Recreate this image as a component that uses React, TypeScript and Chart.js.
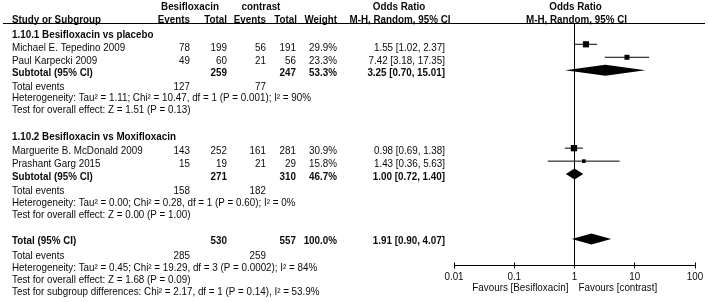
import React, { useEffect, useRef } from "react";
import { Chart, registerables } from "chart.js";

Chart.register(...registerables);

// ---------- data ----------
const studyNames = [
  "Michael E. Tepedino 2009",
  "Paul Karpecki 2009",
  "Marguerite B. McDonald 2009",
  "Prashant Garg 2015",
];
const studyGroup = [0, 0, 1, 1];
const besiEvents = [78, 49, 143, 15];
const besiTotal = [199, 60, 252, 19];
const ctrlEvents = [56, 21, 161, 21];
const ctrlTotal = [191, 56, 281, 29];
const studyWeight = [29.9, 23.3, 30.9, 15.8];
const studyOR = [1.55, 7.42, 0.98, 1.43];
const studyLow = [1.02, 3.18, 0.69, 0.36];
const studyHigh = [2.37, 17.35, 1.38, 5.63];

const groupTitles = ["1.10.1 Besifloxacin vs placebo", "1.10.2 Besifloxacin vs Moxifloxacin"];
const groupBesiTotal = [259, 271];
const groupCtrlTotal = [247, 310];
const groupWeight = [53.3, 46.7];
const groupOR = [3.25, 1.0];
const groupLow = [0.7, 0.72];
const groupHigh = [15.01, 1.4];
const groupBesiEvents = [127, 158];
const groupCtrlEvents = [77, 182];
const groupHet = [
  "Heterogeneity: Tau² = 1.11; Chi² = 10.47, df = 1 (P = 0.001); I² = 90%",
  "Heterogeneity: Tau² = 0.00; Chi² = 0.28, df = 1 (P = 0.60); I² = 0%",
];
const groupTest = [
  "Test for overall effect: Z = 1.51 (P = 0.13)",
  "Test for overall effect: Z = 0.00 (P = 1.00)",
];

const totalBesi = 530;
const totalCtrl = 557;
const totalWeight = 100.0;
const totalOR = 1.91;
const totalLow = 0.9;
const totalHigh = 4.07;
const totalBesiEvents = 285;
const totalCtrlEvents = 259;
const totalHet = "Heterogeneity: Tau² = 0.45; Chi² = 19.29, df = 3 (P = 0.0002); I² = 84%";
const totalTest = "Test for overall effect: Z = 1.68 (P = 0.09)";
const subgroupTest = "Test for subgroup differences: Chi² = 2.17, df = 1 (P = 0.14), I² = 53.9%";

const axisTicks = [0.01, 0.1, 1, 10, 100];
const axisTickLabels = ["0.01", "0.1", "1", "10", "100"];
const favoursLeft = "Favours [Besifloxacin]";
const favoursRight = "Favours [contrast]";

// ---------- layout (row units of the y scale) ----------
const studyRows = [1, 2, 9, 10];
const groupRows = [3, 11];
const totalRow = 16;
const groupTitleRows = [0.29, 8.12];
const groupEventRows = [4.27, 12.3];
const groupHetRows = [5.19, 13.23];
const groupTestRows = [6.1, 14.15];
const totalEventsRow = 17.35;
const totalHetRow = 18.27;
const totalTestRow = 19.16;
const subgroupRow = 20.06;

const W = 708;
const H = 302;
const FONT = '"Liberation Sans", Arial, Helvetica, sans-serif';
const FONT_PX = 10.2;
const TEXT_SX = 0.965;
const COL = { name: 12, ev1: 190, tot1: 227, ev2: 266, tot2: 296, wt: 337, ci: 445 };

const fmtCI = (e: number, l: number, h: number) =>
  `${e.toFixed(2)} [${l.toFixed(2)}, ${h.toFixed(2)}]`;

type TextItem = { t: string; x: number; y: number; align: CanvasTextAlign; bold?: boolean; px?: boolean };

const forestPlugin = {
  id: "forest",
  beforeDatasetsDraw(chart: any) {
    const { ctx, chartArea, scales } = chart;
    const xs = scales.x;
    ctx.save();
    ctx.strokeStyle = "#000";
    ctx.lineWidth = 1;
    const xv = Math.floor(xs.getPixelForValue(1)) + 0.5;
    ctx.beginPath();
    ctx.moveTo(xv, chartArea.top);
    ctx.lineTo(xv, chartArea.bottom);
    ctx.stroke();
    ctx.restore();
  },
  afterDatasetsDraw(chart: any) {
    const { ctx, chartArea, scales } = chart;
    const xs = scales.x;
    const ys = scales.y;
    ctx.save();

    // header rule
    ctx.strokeStyle = "#000";
    ctx.lineWidth = 1;
    ctx.beginPath();
    ctx.moveTo(3, Math.floor(chartArea.top) + 0.5);
    ctx.lineTo(705, Math.floor(chartArea.top) + 0.5);
    ctx.stroke();

    // diamonds
    const diamonds: [number, number, number, number][] = [];
    groupOR.forEach((o, i) => diamonds.push([groupRows[i], o, groupLow[i], groupHigh[i]]));
    diamonds.push([totalRow, totalOR, totalLow, totalHigh]);
    ctx.fillStyle = "#000";
    diamonds.forEach(([r, e, l, h]) => {
      const yc = ys.getPixelForValue(r);
      ctx.beginPath();
      ctx.moveTo(xs.getPixelForValue(l), yc);
      ctx.lineTo(xs.getPixelForValue(e), yc - 5.5);
      ctx.lineTo(xs.getPixelForValue(h), yc);
      ctx.lineTo(xs.getPixelForValue(e), yc + 5.5);
      ctx.closePath();
      ctx.fill();
    });

    // axis
    const ay = Math.floor(chartArea.bottom) + 0.5;
    ctx.beginPath();
    ctx.moveTo(xs.getPixelForValue(axisTicks[0]), ay);
    ctx.lineTo(xs.getPixelForValue(axisTicks[axisTicks.length - 1]), ay);
    ctx.stroke();
    axisTicks.forEach((t) => {
      const tx = Math.floor(xs.getPixelForValue(t)) + 0.5;
      ctx.beginPath();
      ctx.moveTo(tx, ay - 3);
      ctx.lineTo(tx, ay + 3);
      ctx.stroke();
    });

    // texts
    const items: TextItem[] = [];
    const x1 = xs.getPixelForValue(1);
    items.push({ t: "Besifloxacin", x: 190, y: 7, align: "center", bold: true, px: true });
    items.push({ t: "contrast", x: 261, y: 7, align: "center", bold: true, px: true });
    items.push({ t: "Odds Ratio", x: 399, y: 7, align: "center", bold: true, px: true });
    items.push({ t: "Odds Ratio", x: x1 + 1, y: 7, align: "center", bold: true, px: true });
    items.push({ t: "Study or Subgroup", x: COL.name, y: 20, align: "left", bold: true, px: true });
    items.push({ t: "Events", x: 190, y: 20, align: "right", bold: true, px: true });
    items.push({ t: "Total", x: 227, y: 20, align: "right", bold: true, px: true });
    items.push({ t: "Events", x: 266, y: 20, align: "right", bold: true, px: true });
    items.push({ t: "Total", x: 297, y: 20, align: "right", bold: true, px: true });
    items.push({ t: "Weight", x: 337, y: 20, align: "right", bold: true, px: true });
    items.push({ t: "M-H, Random, 95% CI", x: 400, y: 20, align: "center", bold: true, px: true });
    items.push({ t: "M-H, Random, 95% CI", x: x1 + 2, y: 20, align: "center", bold: true, px: true });

    groupTitles.forEach((g, gi) => {
      items.push({ t: g, x: COL.name, y: groupTitleRows[gi], align: "left", bold: true });
      studyNames.forEach((s, i) => {
        if (studyGroup[i] !== gi) return;
        const r = studyRows[i] + 0.27;
        items.push({ t: s, x: COL.name, y: r, align: "left" });
        items.push({ t: String(besiEvents[i]), x: COL.ev1, y: r, align: "right" });
        items.push({ t: String(besiTotal[i]), x: COL.tot1, y: r, align: "right" });
        items.push({ t: String(ctrlEvents[i]), x: COL.ev2, y: r, align: "right" });
        items.push({ t: String(ctrlTotal[i]), x: COL.tot2, y: r, align: "right" });
        items.push({ t: studyWeight[i].toFixed(1) + "%", x: COL.wt, y: r, align: "right" });
        items.push({ t: fmtCI(studyOR[i], studyLow[i], studyHigh[i]), x: COL.ci, y: r, align: "right" });
      });
      const sr = groupRows[gi] + 0.2;
      items.push({ t: "Subtotal (95% CI)", x: COL.name, y: sr, align: "left", bold: true });
      items.push({ t: String(groupBesiTotal[gi]), x: COL.tot1, y: sr, align: "right", bold: true });
      items.push({ t: String(groupCtrlTotal[gi]), x: COL.tot2, y: sr, align: "right", bold: true });
      items.push({ t: groupWeight[gi].toFixed(1) + "%", x: COL.wt, y: sr, align: "right", bold: true });
      items.push({ t: fmtCI(groupOR[gi], groupLow[gi], groupHigh[gi]), x: COL.ci, y: sr, align: "right", bold: true });
      items.push({ t: "Total events", x: COL.name, y: groupEventRows[gi], align: "left" });
      items.push({ t: String(groupBesiEvents[gi]), x: COL.ev1, y: groupEventRows[gi], align: "right" });
      items.push({ t: String(groupCtrlEvents[gi]), x: COL.ev2, y: groupEventRows[gi], align: "right" });
      items.push({ t: groupHet[gi], x: COL.name, y: groupHetRows[gi], align: "left" });
      items.push({ t: groupTest[gi], x: COL.name, y: groupTestRows[gi], align: "left" });
    });

    const tr = totalRow + 0.16;
    items.push({ t: "Total (95% CI)", x: COL.name, y: tr, align: "left", bold: true });
    items.push({ t: String(totalBesi), x: COL.tot1, y: tr, align: "right", bold: true });
    items.push({ t: String(totalCtrl), x: COL.tot2, y: tr, align: "right", bold: true });
    items.push({ t: totalWeight.toFixed(1) + "%", x: COL.wt, y: tr, align: "right", bold: true });
    items.push({ t: fmtCI(totalOR, totalLow, totalHigh), x: COL.ci, y: tr, align: "right", bold: true });
    items.push({ t: "Total events", x: COL.name, y: totalEventsRow, align: "left" });
    items.push({ t: String(totalBesiEvents), x: COL.ev1, y: totalEventsRow, align: "right" });
    items.push({ t: String(totalCtrlEvents), x: COL.ev2, y: totalEventsRow, align: "right" });
    items.push({ t: totalHet, x: COL.name, y: totalHetRow, align: "left" });
    items.push({ t: totalTest, x: COL.name, y: totalTestRow, align: "left" });
    items.push({ t: subgroupTest, x: COL.name, y: subgroupRow, align: "left" });

    axisTicks.forEach((t, i) => {
      items.push({ t: axisTickLabels[i], x: xs.getPixelForValue(t), y: ay + 12, align: "center", px: true });
    });
    items.push({ t: favoursLeft, x: x1 - 6, y: ay + 23, align: "right", px: true });
    items.push({ t: favoursRight, x: x1 + 4, y: ay + 23, align: "left", px: true });

    ctx.fillStyle = "#0a0a0a";
    ctx.textBaseline = "middle";
    items.forEach((it) => {
      ctx.font = `${it.bold ? "bold " : ""}${FONT_PX}px ${FONT}`;
      ctx.textAlign = it.align;
      const yy = it.px ? it.y : ys.getPixelForValue(it.y);
      ctx.save();
      ctx.translate(it.x, yy);
      ctx.scale(TEXT_SX, 1);
      ctx.fillText(it.t, 0, 0);
      ctx.restore();
    });
    ctx.restore();
  },
};

export default function App() {
  const ref = useRef<HTMLCanvasElement>(null);
  useEffect(() => {
    const canvas = ref.current;
    if (!canvas) return;
    const ciDatasets = studyNames.map((_, i) => ({
      type: "line" as const,
      data: [
        { x: studyLow[i], y: studyRows[i] },
        { x: studyHigh[i], y: studyRows[i] },
      ],
      borderColor: "#000",
      borderWidth: 1,
      pointRadius: 0,
      showLine: true,
      fill: false,
    }));
    const chart = new Chart(canvas, {
      type: "scatter",
      data: {
        datasets: [
          {
            data: studyNames.map((_, i) => ({ x: studyOR[i], y: studyRows[i] })),
            pointStyle: "rect",
            pointRadius: studyWeight.map((w) => (0.8 + 0.18 * w) / Math.SQRT2),
            backgroundColor: "#000",
            borderColor: "#000",
            pointBorderWidth: 0,
          } as any,
          ...ciDatasets,
        ],
      },
      options: {
        animation: false,
        responsive: false,
        devicePixelRatio: 1,
        layout: { padding: { left: 454, right: 13, top: 23, bottom: 37 } },
        scales: {
          x: { type: "logarithmic", min: 0.01, max: 100, display: false },
          y: { type: "linear", min: -0.64, max: 18, reverse: true, display: false },
        },
        plugins: { legend: { display: false }, tooltip: { enabled: false } },
      },
      plugins: [forestPlugin],
    } as any);
    return () => chart.destroy();
  }, []);
  return (
    <div style={{ position: "fixed", left: 0, top: 0, width: W, height: H, background: "#fff" }}>
      <canvas ref={ref} width={W} height={H} style={{ display: "block", width: W, height: H }} />
    </div>
  );
}
